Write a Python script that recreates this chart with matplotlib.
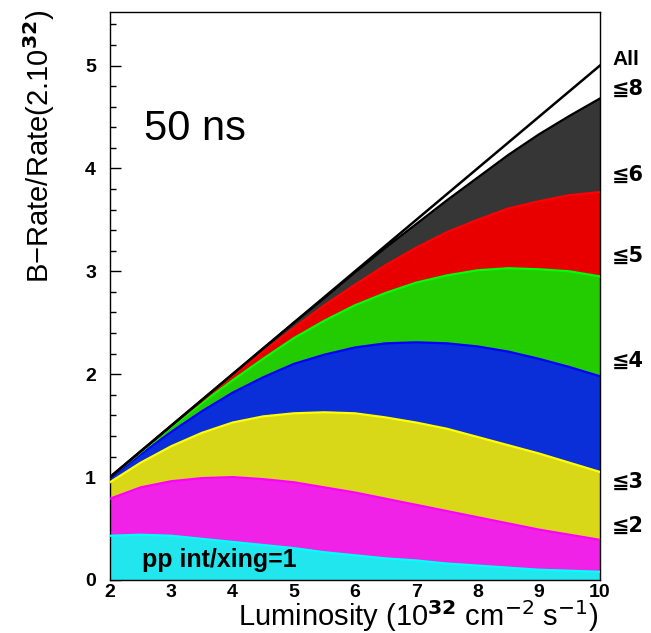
import matplotlib
matplotlib.use('Agg')
import matplotlib.pyplot as plt
from matplotlib.ticker import MultipleLocator
import numpy as np

plt.rcParams['font.family'] = ['Liberation Sans', 'DejaVu Sans']

# ── Data ──────────────────────────────────────────────────────────────────────
lumi = [2.0, 2.5, 3.0, 3.5, 4.0, 4.5, 5.0, 5.5, 6.0, 6.5, 7.0, 7.5, 8.0, 8.5, 9.0, 9.5, 10.0]

rate_all = [1.00, 1.25, 1.50, 1.75, 2.00, 2.25, 2.50, 2.75, 3.00, 3.25, 3.50, 3.75, 4.00, 4.25, 4.50, 4.75, 5.00]
rate_le8 = [1.00, 1.25, 1.50, 1.75, 2.00, 2.25, 2.50, 2.74, 2.99, 3.23, 3.46, 3.69, 3.91, 4.13, 4.33, 4.51, 4.68]
rate_le6 = [1.00, 1.25, 1.50, 1.74, 1.99, 2.22, 2.45, 2.67, 2.87, 3.06, 3.23, 3.38, 3.50, 3.61, 3.68, 3.74, 3.77]
rate_le5 = [1.00, 1.24, 1.49, 1.72, 1.94, 2.15, 2.35, 2.52, 2.67, 2.79, 2.89, 2.96, 3.01, 3.03, 3.02, 3.00, 2.95]
rate_le4 = [0.99, 1.22, 1.44, 1.64, 1.82, 1.97, 2.10, 2.19, 2.26, 2.30, 2.31, 2.30, 2.27, 2.22, 2.15, 2.07, 1.98]
rate_le3 = [0.95, 1.14, 1.30, 1.43, 1.53, 1.59, 1.62, 1.63, 1.62, 1.58, 1.53, 1.47, 1.39, 1.31, 1.23, 1.14, 1.05]
rate_le2 = [0.79, 0.90, 0.96, 0.99, 1.00, 0.98, 0.95, 0.90, 0.85, 0.79, 0.73, 0.67, 0.61, 0.55, 0.49, 0.44, 0.39]
rate_eq1 = [0.43, 0.44, 0.43, 0.40, 0.37, 0.34, 0.31, 0.27, 0.24, 0.21, 0.19, 0.16, 0.14, 0.12, 0.10, 0.09, 0.08]

band_labels = ['All', '≦8', '≦6', '≦5', '≦4', '≦3', '≦2']
label_y = [5.06, 4.77, 3.94, 3.15, 2.13, 0.95, 0.53]

# ── Plot ──────────────────────────────────────────────────────────────────────
fig = plt.figure(figsize=(6.51, 6.33), dpi=100)
ax = fig.add_axes([110 / 651, 1 - 580 / 633, 490 / 651, 568 / 633])

x = np.array(lumi)
bands = [
    (np.zeros_like(x), rate_eq1, '#22e6ee', '#00ffff'),
    (rate_eq1, rate_le2, '#f022e8', '#ff00ff'),
    (rate_le2, rate_le3, '#d8d818', '#ffff00'),
    (rate_le3, rate_le4, '#0a2ed8', '#0000ff'),
    (rate_le4, rate_le5, '#22cc00', '#00ff00'),
    (rate_le5, rate_le6, '#e80000', '#ff0000'),
    (rate_le6, rate_le8, '#363636', '#000000'),
]
for lo, hi, fc, ec in bands:
    ax.fill_between(x, lo, hi, facecolor=fc, edgecolor='none', zorder=2)
    ax.plot(x, hi, color=ec, lw=1.6, zorder=3)

ax.plot(x, rate_all, color='black', lw=1.8, zorder=4)

ax.set_xlim(2, 10)
ax.set_ylim(0, 5.52)
ax.set_xticks(range(2, 11))
ax.yaxis.set_major_locator(MultipleLocator(1))
ax.yaxis.set_minor_locator(MultipleLocator(0.2))
ax.tick_params(axis='y', which='major', direction='in', length=8, width=1,
               labelsize=14, pad=10)
ax.tick_params(axis='y', which='minor', direction='in', length=4, width=1)
ax.tick_params(axis='x', length=0, labelsize=14, pad=3)
for lab in ax.get_xticklabels() + ax.get_yticklabels():
    lab.set_fontweight('bold')
for sp in ax.spines.values():
    sp.set_linewidth(1.0)

# axis titles placed in figure pixels, like the reference
fig.text(599 / 651, 1 - 626 / 633,
         'Luminosity (10$^{\\mathbf{32}}$ cm$^{-2}$ s$^{-1}$)',
         fontsize=21, ha='right', va='baseline')
fig.text(39 / 651, 1 - 10 / 633, 'B\u2212Rate/Rate(2.10$^{\\mathbf{32}}$)',
         fontsize=21, rotation=90, ha='center', va='top')

ax.text(2.55, 4.38, '50 ns', fontsize=30, ha='left', va='center')
ax.text(2.52, 0.19, 'pp int/xing=1', fontsize=18, fontweight='bold',
        ha='left', va='center', zorder=5)

trans = ax.get_yaxis_transform()
for lab, yy in zip(band_labels, label_y):
    ax.text(1.025, yy, lab, transform=trans, fontsize=15, fontweight='bold',
            ha='left', va='center', family=['DejaVu Sans'] if lab != 'All' else None)

fig.savefig('out.png', dpi=100)
